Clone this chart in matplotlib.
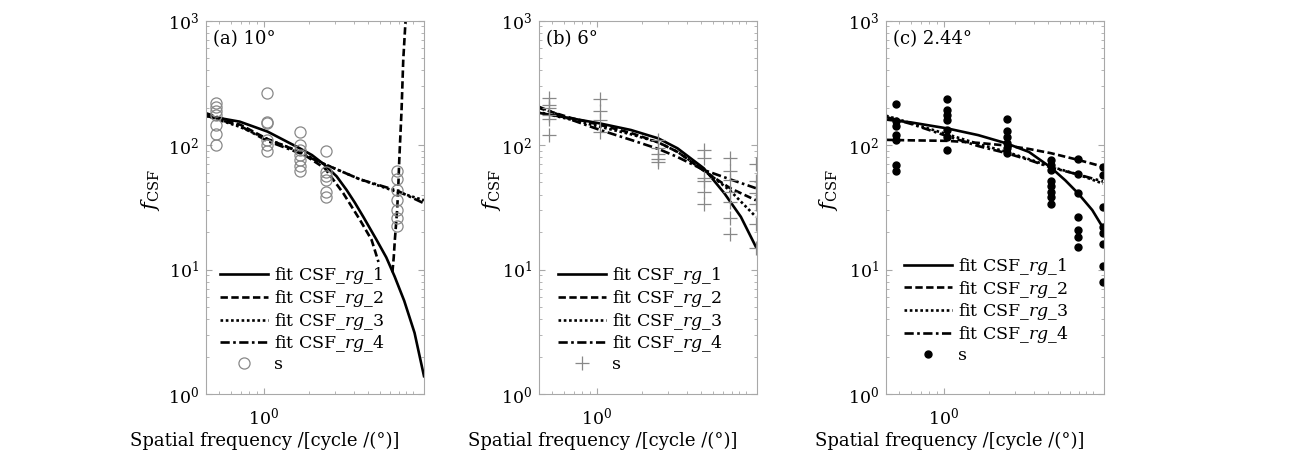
import matplotlib
matplotlib.use('Agg')
import matplotlib.pyplot as plt
from matplotlib.ticker import FixedLocator, NullFormatter, LogFormatterSciNotation, LogLocator

plt.rcParams['font.family'] = 'DejaVu Serif'
plt.rcParams['mathtext.fontset'] = 'dejavuserif'

# ---------------- panel (a) 10 deg
a_sx = [0.475]*7 + [1.05]*6 + [1.74]*7 + [2.6]*6 + [7.8]*7
a_sy = [216, 203, 189, 174, 145, 122, 100,
        260, 154, 149, 110, 100, 90,
        128, 100, 92, 83, 76, 68, 62,
        89, 61, 56, 52, 42, 38.5,
        62, 53, 43.5, 36, 30, 26, 22.5]
a_rg1_x = [0.41, 0.69, 1.06, 1.74, 2.1, 2.56, 3.07, 3.58, 4.06, 4.63, 5.68, 6.6, 7.5, 8.7, 10.2, 11.8]
a_rg1_y = [172, 154, 128, 94, 83, 69, 56, 43.5, 34.5, 26.5, 17.3, 12.5, 8.8, 5.6, 3.1, 1.39]
a_rg2_x = [0.41, 0.7, 1.05, 1.74, 2.56, 3.4, 4.4, 5.26, 5.85]
a_rg2_y = [180, 145, 112, 88, 65, 41, 25, 17.3, 11.5]
a_rg2b_x = [7.25, 7.4, 7.53, 7.8, 7.94, 8.06, 8.35, 8.57, 8.88]
a_rg2b_y = [9.5, 12.5, 17.3, 30, 46, 76, 191, 482, 1000]
a_rg3_x = [0.41, 0.69, 1.05, 1.74, 2.56, 4.4, 7.8, 11.8]
a_rg3_y = [172, 140, 112, 88, 70, 53, 42, 36]
a_rg4_x = [0.41, 0.69, 1.05, 1.74, 2.56, 4.4, 7.8, 11.8]
a_rg4_y = [172, 143, 108, 86, 70, 53, 43, 34]

# ---------------- panel (b) 6 deg
b_sx = [0.475]*6 + [1.05]*4 + [2.58]*5 + [5.2]*6 + [7.8]*7 + [11.6]*6
b_sy = [237, 210, 197, 175, 162, 121,
        235, 188, 160, 128,
        110, 95, 84, 77, 73,
        92, 78, 54, 51, 42, 33.6,
        79, 62, 52, 42, 35, 25.8, 19.3,
        71, 51, 41, 33.6, 23.2, 14.8]
b_rg1_x = [0.40, 0.67, 1.05, 1.69, 2.58, 3.47, 5.2, 7.13, 9.2, 11.6]
b_rg1_y = [182, 164, 149, 132, 113, 94, 65, 41, 26.5, 15.2]
b_rg2_x = [0.40, 0.67, 1.05, 1.69, 2.58, 3.47, 5.2, 7.8, 11.6]
b_rg2_y = [200, 165, 145, 125, 105, 88, 62, 45, 36]
b_rg3_x = [0.40, 0.67, 1.05, 1.69, 2.58, 3.47, 5.2, 7.8, 11.6]
b_rg3_y = [185, 160, 140, 122, 105, 88, 63, 43, 26.5]
b_rg4_x = [0.40, 0.67, 1.05, 1.69, 2.58, 3.47, 5.2, 7.8, 11.6]
b_rg4_y = [205, 160, 132, 110, 93, 80, 63, 53, 45]

# ---------------- panel (c) 2.44 deg
c_sx = [0.475]*7 + [1.05]*7 + [2.63]*6 + [5.2]*8 + [7.89]*7 + [11.6]*8
c_sy = [212, 155, 142, 120, 110, 69, 62,
        232, 191, 174, 159, 132, 117, 91,
        162, 130, 117, 104, 94, 86,
        76, 69, 63, 51, 47, 42, 38.5, 33.6,
        77, 59, 41.5, 26.3, 20.8, 18.2, 15.3,
        67, 57, 32, 22, 19.6, 16, 10.6, 8.0]
c_rg1_x = [0.41, 0.6, 1.05, 1.7, 2.63, 3.71, 5.2, 6.5, 7.9, 9.85, 11.8]
c_rg1_y = [160, 152, 136, 120, 103, 88, 66, 52, 41, 30, 21]
c_rg2_x = [0.41, 0.6, 1.05, 1.7, 2.63, 3.7, 5.2, 7.9, 11.6]
c_rg2_y = [110, 109, 108, 104, 99, 93, 86, 76, 67]
c_rg3_x = [0.41, 0.6, 1.05, 1.7, 2.63, 3.7, 5.2, 7.9, 11.6]
c_rg3_y = [172, 150, 122, 102, 88, 77, 67, 58, 49]
c_rg4_x = [0.41, 0.6, 1.05, 1.7, 2.63, 3.7, 5.2, 7.9, 11.6]
c_rg4_y = [168, 148, 118, 98, 86, 76, 66, 58, 51]

labels = [r'fit CSF_$\mathit{rg}$_1', r'fit CSF_$\mathit{rg}$_2',
          r'fit CSF_$\mathit{rg}$_3', r'fit CSF_$\mathit{rg}$_4']
lw = 1.9
grey = '#a8a8a8'

fig = plt.figure(figsize=(12.98, 4.55), dpi=100)
lefts = [206/1298, 539/1298, 886/1298]
w = 218/1298
bot = 61/455
h = 373.5/455


def setup(ax, title, xlab_x, ylab_x):
    ax.set_xscale('log')
    ax.set_yscale('log')
    ax.set_xlim(0.41, 11.8)
    ax.set_ylim(1, 1000)
    ax.xaxis.set_major_locator(FixedLocator([1]))
    ax.xaxis.set_major_formatter(LogFormatterSciNotation())
    ax.xaxis.set_minor_locator(FixedLocator([0.5, 0.6, 0.7, 0.8, 0.9, 2, 3, 4, 5, 6, 7, 8, 9, 10]))
    ax.xaxis.set_minor_formatter(NullFormatter())
    ax.yaxis.set_major_locator(LogLocator(base=10))
    ax.yaxis.set_minor_locator(LogLocator(base=10, subs=range(2, 10)))
    ax.yaxis.set_minor_formatter(NullFormatter())
    ax.tick_params(which='both', direction='in', top=True, right=True, color=grey,
                   labelsize=12.5, pad=5)
    ax.tick_params(axis='x', which='major', pad=9)
    ax.tick_params(which='major', length=4)
    ax.tick_params(which='minor', length=2.5)
    for s in ax.spines.values():
        s.set_color(grey)
    ax.set_xlabel('Spatial frequency /[cycle /(°)]', fontsize=13)
    ax.xaxis.set_label_coords(xlab_x, -0.1)
    ax.set_ylabel(r'$f_{\rm CSF}$', fontsize=15)
    ax.yaxis.set_label_coords(ylab_x, 0.545)
    ax.text(0.03, 0.975, title, transform=ax.transAxes, fontsize=13, va='top', ha='left')


panels = [
    ('(a) 10°', a_sx, a_sy, dict(marker='o', mfc='none', mec='#888888', ms=8, mew=0.9),
     [(a_rg1_x, a_rg1_y), (a_rg2_x, a_rg2_y), (a_rg3_x, a_rg3_y), (a_rg4_x, a_rg4_y)],
     (0.064, 0.345), 0.27, -0.2),
    ('(b) 6°', b_sx, b_sy, dict(marker='+', color='#888888', ms=10, mew=0.9),
     [(b_rg1_x, b_rg1_y), (b_rg2_x, b_rg2_y), (b_rg3_x, b_rg3_y), (b_rg4_x, b_rg4_y)],
     (0.087, 0.345), 0.29, -0.165),
    ('(c) 2.44°', c_sx, c_sy, dict(marker='o', color='black', ms=5),
     [(c_rg1_x, c_rg1_y), (c_rg2_x, c_rg2_y), (c_rg3_x, c_rg3_y), (c_rg4_x, c_rg4_y)],
     (0.083, 0.37), 0.29, -0.21),
]
styles = ['-', (0, (2.8, 1.3)), (0, (1, 1)), (0, (3.5, 1.3, 1, 1.3))]

for i, (title, sx, sy, mk, curves, leg_xy, xlx, ylx) in enumerate(panels):
    ax = fig.add_axes([lefts[i], bot, w, h])
    hs = []
    for (cx, cy), st, lab in zip(curves, styles, labels):
        ln, = ax.plot(cx, cy, color='black', ls=st, lw=lw, label=lab)
        hs.append(ln)
    if i == 0:
        ax.plot(a_rg2b_x, a_rg2b_y, color='black', ls=styles[1], lw=lw)
    pt, = ax.plot(sx, sy, ls='none', label='s', **mk)
    hs.append(pt)
    setup(ax, title, xlx, ylx)
    ax.legend(handles=hs, loc='upper left', bbox_to_anchor=leg_xy,
              frameon=False, fontsize=12.5, handlelength=2.75, handletextpad=0.35,
              labelspacing=0.1, borderpad=0, borderaxespad=0)

fig.savefig('out.png', dpi=100)
